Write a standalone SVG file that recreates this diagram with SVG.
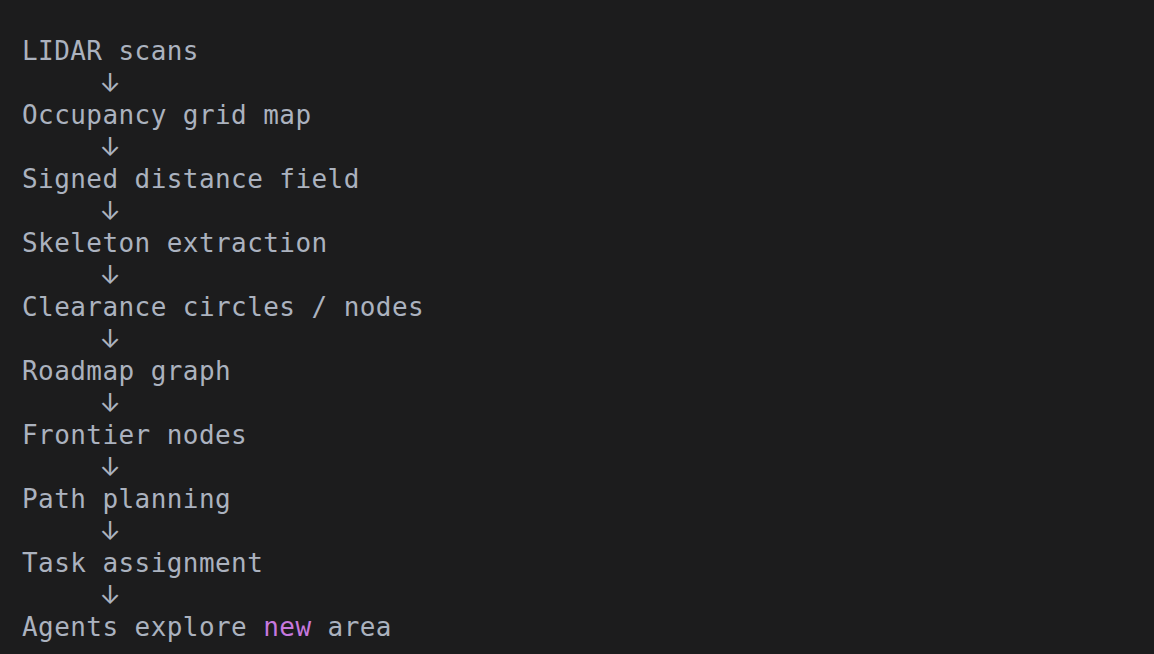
<svg xmlns="http://www.w3.org/2000/svg" width="1154" height="654" viewBox="0 0 1154 654">
<style>
.t{font-family:"DejaVu Sans Mono","Liberation Mono",monospace;font-size:26px;letter-spacing:0.43px;fill:#abb2bf}
.a{font-family:Inter,"Noto Sans CJK SC",sans-serif;font-size:26px;fill:#abb2bf;text-anchor:middle}
.k{fill:#c678dd}
</style>
<rect width="1154" height="654" fill="#1c1c1d"/>
<g id="n1"><text class="t" x="22" y="60">LIDAR scans</text></g>
<g id="n2"><text class="t" x="22" y="124">Occupancy grid map</text></g>
<g id="n3"><text class="t" x="22" y="188">Signed distance field</text></g>
<g id="n4"><text class="t" x="22" y="252">Skeleton extraction</text></g>
<g id="n5"><text class="t" x="22" y="316">Clearance circles / nodes</text></g>
<g id="n6"><text class="t" x="22" y="380">Roadmap graph</text></g>
<g id="n7"><text class="t" x="22" y="444">Frontier nodes</text></g>
<g id="n8"><text class="t" x="22" y="508">Path planning</text></g>
<g id="n9"><text class="t" x="22" y="572">Task assignment</text></g>
<g id="n10"><text class="t" x="22" y="636">Agents explore <tspan class="k">new</tspan> area</text></g>
<g id="connectors">
<text class="a" x="110" y="92">↓</text>
<text class="a" x="110" y="156">↓</text>
<text class="a" x="110" y="220">↓</text>
<text class="a" x="110" y="284">↓</text>
<text class="a" x="110" y="348">↓</text>
<text class="a" x="110" y="412">↓</text>
<text class="a" x="110" y="476">↓</text>
<text class="a" x="110" y="540">↓</text>
<text class="a" x="110" y="604">↓</text>
</g>
</svg>
